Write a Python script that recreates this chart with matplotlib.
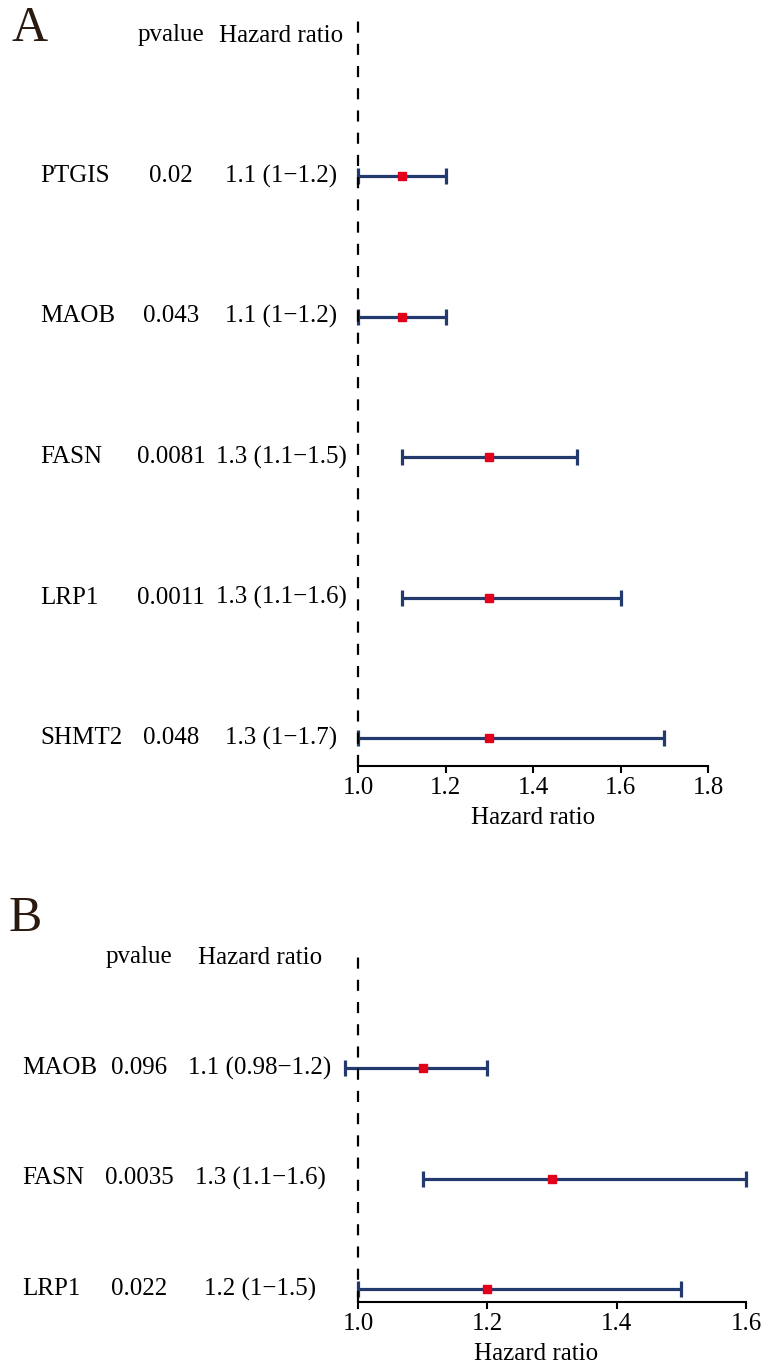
import matplotlib
matplotlib.use("Agg")
import matplotlib.pyplot as plt
import matplotlib.transforms as mtransforms

plt.rcParams['font.family'] = ['Liberation Serif', 'DejaVu Serif']
plt.rcParams['axes.unicode_minus'] = True

# panel A: univariate cox
genes_a = ["PTGIS", "MAOB", "FASN", "LRP1", "SHMT2"]
pvals_a = ["0.02", "0.043", "0.0081", "0.0011", "0.048"]
hr_a = [1.1, 1.1, 1.3, 1.3, 1.3]
lo_a = [1.0, 1.0, 1.1, 1.1, 1.0]
hi_a = [1.2, 1.2, 1.5, 1.6, 1.7]
hrtxt_a = ["1.1 (1\u22121.2)", "1.1 (1\u22121.2)", "1.3 (1.1\u22121.5)",
           "1.3 (1.1\u22121.6)", "1.3 (1\u22121.7)"]
ticks_a = [1.0, 1.2, 1.4, 1.6, 1.8]

# panel B: multivariate cox
genes_b = ["MAOB", "FASN", "LRP1"]
pvals_b = ["0.096", "0.0035", "0.022"]
hr_b = [1.1, 1.3, 1.2]
lo_b = [0.98, 1.1, 1.0]
hi_b = [1.2, 1.6, 1.5]
hrtxt_b = ["1.1 (0.98\u22121.2)", "1.3 (1.1\u22121.6)", "1.2 (1\u22121.5)"]
ticks_b = [1.0, 1.2, 1.4, 1.6]

W, H = 766, 1363
LINE_COL = "#233a6e"
PT_COL = "#e2001a"
FS = 18

fig = plt.figure(figsize=(W / 100, H / 100), dpi=100)


def make_axes(x_px, x_val, xmin, row_px, ytop_px, ybot_px):
    """
    place an axes so that data values land on the measured pixel positions
    x_px / x_val: two pixel columns and their values, row_px: first and last row
    """
    scale = (x_px[1] - x_px[0]) / (x_val[1] - x_val[0])
    left_px = x_px[0] - (x_val[0] - xmin) * scale
    n = len(row_px)
    ystep = (row_px[-1] - row_px[0]) / (n - 1)
    ytop = n + (row_px[0] - ytop_px) / ystep
    ybot = 1 - (ybot_px - row_px[-1]) / ystep
    ax = fig.add_axes([left_px / W, 1 - ybot_px / H,
                       (x_px[1] - left_px) / W, (ybot_px - ytop_px) / H])
    ax.set_xlim(xmin, x_val[1])
    ax.set_ylim(ybot, ytop)
    return ax


def forest(ax, genes, pvals, hr, lo, hi, hrtxt, ticks, cols):
    """
    draws the forest rows plus the text table on the left
    cols: (gene x px, pvalue centre px, hazard ratio centre px)
    """
    n = len(genes)
    ys = list(range(n, 0, -1))
    xerr = [[h - l for h, l in zip(hr, lo)], [u - h for h, u in zip(hr, hi)]]
    ax.errorbar(hr, ys, xerr=xerr, fmt='none', ecolor=LINE_COL,
                elinewidth=2.3, capsize=6, capthick=2.3, clip_on=False, zorder=2)
    ax.plot(hr, ys, 's', color=PT_COL, ms=5.5, clip_on=False, zorder=4)
    # reference line sits on the axes edge in A, so don't clip it
    ax.axvline(1.0, color='black', lw=1.6, ls=(0, (5, 5)), zorder=3, clip_on=False)

    for s in ['top', 'right', 'left']:
        ax.spines[s].set_visible(False)
    ax.spines['bottom'].set_bounds(ticks[0], ticks[-1])
    ax.spines['bottom'].set_linewidth(1.5)
    ax.set_yticks([])
    ax.set_xticks(ticks)
    ax.set_xticklabels([f"{t:.1f}" for t in ticks])
    ax.tick_params(axis='x', labelsize=FS, length=5, width=1.5, pad=3)
    ax.set_xlabel("Hazard ratio", fontsize=FS, labelpad=6)

    tr = mtransforms.blended_transform_factory(fig.transFigure, ax.transData)
    gx, px, hx = cols
    ax.text(px / W, n + 1, "pvalue", transform=tr, ha='center', va='center', fontsize=FS)
    ax.text(hx / W, n + 1, "Hazard ratio", transform=tr, ha='center', va='center', fontsize=FS)
    for y, g, p, t in zip(ys, genes, pvals, hrtxt):
        ax.text(gx / W, y, g, transform=tr, ha='left', va='center', fontsize=FS)
        ax.text(px / W, y, p, transform=tr, ha='center', va='center', fontsize=FS)
        ax.text(hx / W, y, t, transform=tr, ha='center', va='center', fontsize=FS)


ax_a = make_axes((358, 708), (1.0, 1.8), 1.0, [176, 316, 457, 597, 738], 13, 766)
forest(ax_a, genes_a, pvals_a, hr_a, lo_a, hi_a, hrtxt_a, ticks_a, (40, 171, 281))

ax_b = make_axes((358, 746), (1.0, 1.6), 0.95, [1068, 1179, 1289], 957, 1302)
forest(ax_b, genes_b, pvals_b, hr_b, lo_b, hi_b, hrtxt_b, ticks_b, (22, 139, 260))

fig.text(12 / W, 1 - 29 / H, "A", fontsize=36, color="#2a1a0f", ha='left', va='center')
fig.text(9 / W, 1 - 919 / H, "B", fontsize=36, color="#2a1a0f", ha='left', va='center')

fig.savefig("out.png", dpi=100)
